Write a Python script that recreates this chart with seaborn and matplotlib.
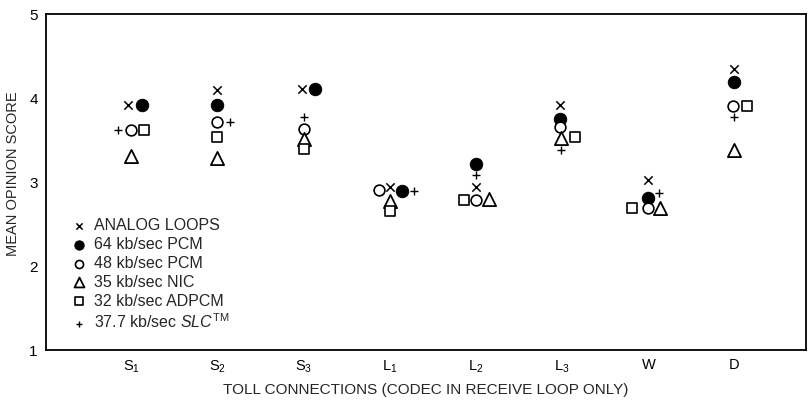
import numpy as np
import pandas as pd
import matplotlib
matplotlib.use("Agg")
import matplotlib.pyplot as plt
import seaborn as sns

# ---- data ----
categories = ["S1", "S2", "S3", "L1", "L2", "L3", "W", "D"]
tick_labels = [r"S$_1$", r"S$_2$", r"S$_3$", r"L$_1$", r"L$_2$", r"L$_3$", "W", "D"]
series_names = ["ANALOG LOOPS", "64 kb/sec PCM", "48 kb/sec PCM",
                "35 kb/sec NIC", "32 kb/sec ADPCM",
                "37.7 kb/sec $\\mathit{SLC}^{\\mathrm{TM}}$"]
analog_loops = [3.92, 4.10, 4.11, 2.94, 2.94, 3.92, 3.02, 4.35]
pcm_64 = [3.92, 3.92, 4.11, 2.89, 3.22, 3.75, 2.81, 4.19]
pcm_48 = [3.62, 3.71, 3.63, 2.90, 2.79, 3.65, 2.69, 3.91]
nic_35 = [3.31, 3.29, 3.51, 2.77, 2.80, 3.52, 2.69, 3.38]
adpcm_32 = [3.62, 3.53, 3.39, 2.66, 2.79, 3.53, 2.69, 3.91]
slc_377 = [3.62, 3.71, 3.77, 2.89, 3.08, 3.38, 2.87, 3.77]
y_ticks = [1, 2, 3, 4, 5]

# ---- layout / style (horizontal dodge of overlapping markers) ----
dodge = [
    [-0.04, 0.0, -0.02, 0.0, 0.0, -0.03, 0.0, 0.0],
    [0.12, 0.0, 0.13, 0.14, 0.0, -0.03, 0.0, 0.0],
    [0.0, 0.0, 0.0, -0.13, 0.0, -0.02, 0.0, -0.02],
    [0.0, 0.0, 0.0, 0.0, 0.15, -0.01, 0.14, 0.0],
    [0.15, 0.0, 0.0, 0.0, -0.14, 0.15, -0.19, 0.15],
    [-0.15, 0.15, 0.0, 0.28, 0.0, -0.01, 0.12, 0.0],
]
styles = [
    dict(marker="x", s=36, color="black", linewidth=1.1),
    dict(marker="o", s=80, color="black", edgecolor="black"),
    dict(marker="o", s=60, facecolor="white", edgecolor="black", linewidth=1.2),
    dict(marker="^", s=90, facecolor="white", edgecolor="black", linewidth=1.3),
    dict(marker="s", s=60, facecolor="white", edgecolor="black", linewidth=1.2),
    dict(marker="+", s=40, color="black", linewidth=1.0),
]
all_series = [analog_loops, pcm_64, pcm_48, nic_35, adpcm_32, slc_377]

sns.set_theme(style="white")
plt.rcParams["font.family"] = ["Liberation Sans", "DejaVu Sans"]
plt.rcParams["mathtext.fontset"] = "custom"
plt.rcParams["mathtext.rm"] = "Liberation Sans"
plt.rcParams["mathtext.it"] = "Liberation Sans:italic"

fig = plt.figure(figsize=(8.08, 4.03), dpi=100)
ax = fig.add_axes([46 / 808, 1 - 350 / 403, 760 / 808, 336 / 403])

base = np.arange(len(categories))
for name, vals, dx, st in zip(series_names, all_series, dodge, styles):
    df = pd.DataFrame({"x": base + np.array(dx), "y": vals})
    sns.scatterplot(data=df, x="x", y="y", ax=ax, label=name, **st)

ax.set_xlim(-0.99, 7.83)
ax.set_ylim(1, 5)
ax.set_xticks(base)
ax.set_xticklabels(tick_labels, fontsize=10.5)
ax.set_yticks(y_ticks)
ax.set_yticklabels([str(v) for v in y_ticks], fontsize=11)
ax.tick_params(direction="in", length=8, width=1, colors="black", pad=6)
ax.tick_params(axis="y", length=10)
for sp in ax.spines.values():
    sp.set_visible(True)
    sp.set_color("black")
    sp.set_linewidth(1.3)
ax.set_xlabel("TOLL CONNECTIONS (CODEC IN RECEIVE LOOP ONLY)", fontsize=11, labelpad=6)
ax.set_ylabel("MEAN OPINION SCORE", fontsize=10.5)
ax.yaxis.set_label_coords(-0.034, 0.525)

leg = ax.legend(loc="upper left", bbox_to_anchor=(0.02, 0.427), frameon=False,
                fontsize=11.5, markerscale=0.75, handlelength=0.8,
                handletextpad=0.55, labelspacing=0.25, borderpad=0.2)

fig.savefig("out.png", dpi=100)
